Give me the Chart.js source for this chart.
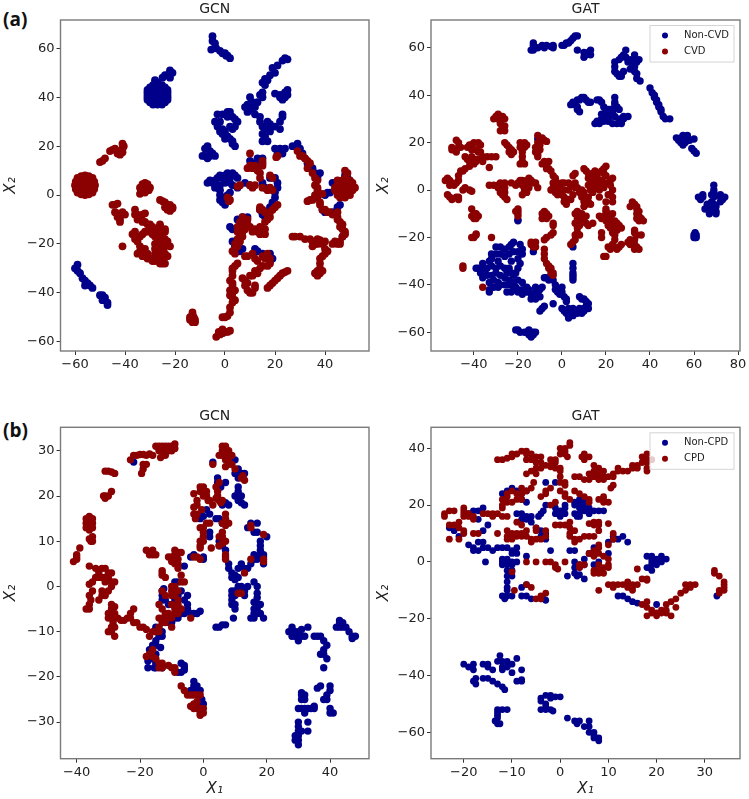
<!DOCTYPE html>
<html>
<head>
<meta charset="utf-8">
<title>GCN / GAT embeddings</title>
<script src="https://cdn.jsdelivr.net/npm/chart.js@4/dist/chart.umd.min.js"></script>
<style>
  html, body { margin: 0; padding: 0; background: #fff; }
  #page { position: relative; width: 749px; height: 799px; overflow: hidden; }
  canvas { position: absolute; }
  .tag { position: absolute; left: 3px; font: bold 19px "Open Sans", sans-serif; color: #111; }
</style>
</head>
<body>
<div id="page">
  <div class="tag" style="top:6px">(a)</div>
  <div class="tag" style="top:417px">(b)</div>
  <canvas id="aGcn" width="375" height="395" style="left:0;top:0"></canvas>
  <canvas id="aGat" width="374" height="395" style="left:375px;top:0"></canvas>
  <canvas id="bGcn" width="375" height="392" style="left:0;top:407px"></canvas>
  <canvas id="bGat" width="374" height="392" style="left:375px;top:407px"></canvas>
</div>
<script>
// values, [x1, x2]
const aGcnNon = [[-5,65],[-5,63],[-4,62],[-3.5,60],[-5.5,59.5],[-2,59],[-1,58],[0,58],[0.5,57],[1,57],[2,56],
  [-27,41],[-24,41],[-30,41],[-27,44],[-27,38],[-29,44],[-25,44],[-29,38],[-25,38],[-31,42],[-31,40],[-23,42],[-23,40],[-27,46],[-27,37],[-28,47],
  [-31,41],[-23,41],[-27,45],[-30,44],[-24,44],[-30,38],[-24,38],[-29.5,41],[-24.5,41],[-27,43],[-27,39],[-29,42.5],[-25,42.5],[-29,39.5],[-25,39.5],[-28.8,37],[-25.2,37],[-28.8,45],[-25.2,45],[-31,39],[-31,43],[-23,39],[-23,43],
  [-25,48],[-23,49],[-22,48],[-22,51],[-21,50],[-24,49],
  [-60,-30],[-59,-28.5],[-59,-31],[-58,-32],[-57,-34],[-56,-35],[-56,-37],[-55,-36],[-54,-37],[-53,-38],[-50,-41],[-49,-41],[-49,-43],[-48,-42],[-47,-44],[-47,-45],
  [25,55.5],[24,56],[23,55],[21,53],[19,52],[20,50],[18,49],[16,47.5],[15,46],[16,45],[17,47],[14,41],[15,40],[15,42],[22,41],[20,41.5],[24,42],[24,40],[23,39],[22,40],[25,43],[25,41],
  [10,40],[11,38],[9,37],[8,36],[10,35],[12,36],[13,38],[9,34],[12,33],[14,32],[14,30],[15,28],[16,27],[15,25],[16,24],[17,22],[15,22],[18,29],[20,28],[22,27],[22,30],[23,32],[23,33],[18,26],[17,30],
  [-3,33],[-2,30],[-4,30],[-1,33],[1,34],[2,34],[1,32],[3,32],[4,31],[5,30],[4,28],[3,27],[-1,27],[-3,28],[-2,26],[-1,25],[0,26],[1,24],[2,23],[3,22],[4,20],[3,21],[0,23],[2,28],
  [-8,19],[-7,20],[-6,18],[-5,17],[-6,16],[-8,16],[-7,15],[-4,16],[-9,16],
  [-7,5],[-5,5],[-6,6],[-4,6],[-3,7],[-2,8],[-1,7],[0,8],[1,9],[2,7],[3,9],[4,8],[5,7],[2,5],[0,5],[-2,4],[-3,3],[-2,2],[-2,0],[-1,-1],[-1,-3],[0,-4],[-2,-2],[1,0],[2,1],[3,4],[-4,3],
  [5,3],[8,5],[10,4],[10,14],[12,13],[14,12],[13,15],[15,15],[15,5],[16,3],[18,7],[20,7],[21,5],[21,3],[20,1],[20,-1],[19,-3],[18,-5],[14,-6],[15,-8],[16,-9],[17,-7],
  [20,19],[22,19],[24,19],[23,17],[21,17],[27,20],[29,21],[30,19],[31,17],[32,15],[33,13],[35,11],[36,9],[37,7],[38,9],[41,1],[40,0],[42,1],[39,-6],[40,-7],[43,-7],[45,-5],[46,-4],[47,-17],[43,5],[45,4],[48,8],[49,7],
  [2,-13],[3,-14],[5,-10],[7,-9],[9,-9],[3,-19],[4,-21],[6,-23],[7,-22],[12,-22],[13,-23],[15,-24],[18,-24],[19,-26],[18,-27]];

const aGcnPos = [[-56,4],[-52,4],[-60,4],[-56,8],[-56,0],[-53,7],[-59,7],[-53,1],[-59,1],[-54,4],[-58,4],[-56,6],[-56,2],
  [-52.3,5.5],[-52.3,2.5],[-59.7,5.5],[-59.7,2.5],[-54.5,7.7],[-57.5,7.7],[-54.5,0.3],[-57.5,0.3],[-58,6],[-54,6],[-58,2],[-54,2],
  [-32,3],[-30,3],[-34,3],[-32,5],[-32,1],[-34,0.5],[-31,4.5],[-33,4.5],[-33.5,2],[-30.5,2],
  [-50,13.5],[-49,14],[-48,15],[-46,18],[-45,18.5],[-44,19],[-43,18],[-43,17],[-42,16.5],[-41,17.5],[-41,21],[-40.5,20],[-41,19],
  [-26,-2],[-25,-2.5],[-24,-3],[-23,-4],[-22,-4],[-21,-5],[-23,-6],[-22,-6.5],[-21,-5.5],[-24,-5],
  [-45,-4],[-44,-4],[-43,-3.5],[-44,-7],[-43,-7.5],[-42,-8],[-40,-8],[-43,-9],[-42,-10],[-42,-11],[-41,-7],
  [-36,-6],[-36,-8],[-35,-8],[-34,-9],[-33,-8],[-32,-7.5],[-35,-10],[-33,-11],[-32,-11],[-31,-12],[-30,-12],[-29,-13],[-28,-14],[-27,-15],[-26,-13],[-25,-15],[-24,-14],[-26,-12],[-24,-15],
  [-36,-15],[-37,-16],[-35,-17],[-36,-18],[-35,-19],[-34,-17],[-33,-16],[-32,-15],[-31,-15],[-28,-17],[-27,-18],[-26,-17],[-25,-17],[-29,-16],[-28,-20],[-27,-20],[-26,-20],[-28,-22],[-27,-23],[-25,-22],[-24,-21],[-22,-21],[-23,-19],[-24,-18],[-25,-19],[-26,-23],[-24,-24],[-23,-25],[-25,-26],[-26,-27],[-27,-25],[-28,-24],
  [-34,-21],[-34,-23],[-35,-24],[-33,-25],[-32,-22],[-31,-24],[-30,-26],[-29,-27],[-28,-27],[-26,-28],[-25,-28],[-24,-28],[-33,-24],[-41,-21],[-31,-26],
  [-13,-48],[-13,-49],[-12.5,-50],[-12,-51],[-14,-51],[-13,-52],[-12,-52],[-14,-50],
  [-3.5,-58],[-2,-57],[-2.5,-56],[-1,-56.5],[0,-56],[1,-56],[2,-55.5],[-1,-55],
  [-1,-50],[0,-50],[1,-49.5],[2,-48],[2,-46],[3,-44],[4,-43],[3,-42],[2,-41],[3,-40],[4,-39],[2,-39],[3,-37],[3,-36],[2,-35],[3,-33],[3,-31],[3,-30],[4,-29],[5,-28],
  [7,-9],[8,-10],[9,-10],[6,-11],[7,-12],[8,-12],[9,-12],[10,-13],[5,-13],[6,-14],[7,-15],[8,-14],[5,-15],[6,-17],[7,-17],[5,-18],[6,-19],[4,-20],[5,-21],[4,-22],[3,-23],[4,-24],[12,-14],[11,-15],
  [14,-13],[15,-14],[15,-15],[14,-16],[13,-15],[16,-16],[16,-14],
  [8,-25],[9,-25],[11,-24],[12,-26],[13,-27],[15,-25],[17,-24],[18,-26],[16,-26],[18,-28],[15,-29],[14,-30],[12,-31],[11,-33],[10,-33],[8,-35],[7,-34],[9,-36],[8,-37],[9,-39],[10,-40],[11,-40],[12,-38],[12,-37],[13,-32],[17,-29],
  [17,-38],[18,-37],[19,-36],[20,-35],[21,-34],[22,-33],[23,-32],[24,-31.5],[25,-31],
  [14,-5],[15,-6],[14,-6],[16,-7],[17,-8],[18,-7],[19,-6],[20,-5],[21,-4],[18,-9],[17,-10],[16,-11],
  [6,4],[5,3.5],[10,4],[11,3],[12,4],[15,3],[17,2],[18,3],[19,7],[18,8],[19,2],[1,-1],[2,-2],[1.5,-2.5],
  [10,17],[9,11],[10,12],[11,11],[12,12],[13,10],[14,9],[14,7],[15,12],[15,14],[15,13],[21,16],[20.5,15.5],
  [29,18],[30,16],[31,16],[32,15],[33,14],[34,13],[33,11],[35,9],[36,7],[37,6],[36,4],[37,3],[37,2],[36,0],[36,-1],[35,-2],[34,-2],[33,-2.5],[37,-1],[39,0.5],
  [38,-3],[38,-4],[39,-6],[40,-6],[41,-7],[42,-7],[43,-8],[45,-7],[45,-9],[45,-10],[46,-11],[47,-12],[46,-13],[47,-14],[48,-15],[48,-16],[47,-17],[46,-19],[46,-20],[45,-20],[44,-19],[43,-20],
  [48,10],[49,9],[45,6],[46,5],[47,6],[48,7],[50,6],[51,5],[52,3],[51,2],[50,3],[49,4],[48,1],[47,0],[46,1],[44,2],[45,0],[46,-1],[48,-1],[49,1],[50,0],[45,4],[44,3],[47,3],
  [27,-17],[28,-17],[30,-17],[32,-18],[34,-18],[35,-19],[36,-20],[35,-21],[37,-20],[37,-18],[38,-18.5],[40,-19],[39,-20],[40,-22],[41,-23],[40,-24],[39,-25],[38,-26],[38,-28],[38,-30],[37,-31],[36,-32],[37,-33],[38,-32],[39,-31]];

const aGatNon = [[-13,62],[-13,61],[-14,59],[-13,59],[-11,60],[-9,61],[-8,60],[-7,61],[-5,60.5],[-4,61],[-4,60],[0,61],[1,61],[2,62],[3,62],[4,63],[5,64],[6,65],[7,65],[7,59],[10,58],[10,56],[11,57],[12,58],[13,59],[13,57],
  [28,57],[29,59],[27,56],[26,55],[24,54],[24,52],[24,50],[25,49],[26,48],[27,48],[28,50],[30,54],[29,56],[31,55],[32,54],[33,57],[33,55],[34,54],[35,55],[32,52],[33,50],[34,49],[34,47],[31,51],[33,52],[35.5,46],
  [40,43],[41,41],[42,39],[43,37],[44,35],[45,33],[46,31],[47,30],[42,40],[43,38],[44,36],[45,34],[49,30],
  [52,22],[53,21],[54,22],[55,23],[56,22],[57,23],[54,20],[55,19],[56,20],[57,21],[58,21],[60,21.5],[59,17.5],[60,16.5],[61,15.5],[56,21],
  [69,2],[69,0],[68,-2],[69,-3],[68,-5],[69,-6],[68,-8],[70,-9],[67,-10],[65,-8],[66,-6],[64,-2],[62,-3],[63,-4],[72,-2],[72,-3],[73,-4],[72,-5],[70,-7],[69,-1],[74,-3],[68,-9],[70,-10],[64,-3],
  [60,-19],[61,-19],[60.5,-18],[60.5,-20],[61,-20],[60,-20],
  [5,-24],[5,-31],[5,-33],[5,-35],[5,-36],[5,-37],[5,-38],[-20,-13],[-20,-12.5],[-13,-26],[-11,21.5],
  [4,36],[5,37],[6,36],[7,38],[8,38],[9,39],[10,39],[11,38],[13,37],[7,34],[7,35],[8,33],[12,37],
  [16,38],[17,38],[18,37],[24,39],[24,37],[24,36],[19,35],[21,34],[23,33],[25,35],[26,34],[18,32],[20,32],[22,31],[24,31],[26,30],[28,30],[30,31],[15,28],[17,28],[19,29],[21,29],[23,28],[25,28],[27,29],[18,30],[20,30],[21,31],[16,29],[22,34],[20,34],[27,28],[28,31],
  [-30,-24],[-28,-24],[-26,-25],[-24,-24],[-23,-23],[-22,-22],[-19,-23],[-18,-25],[-24,-27],[-26,-28],[-32,-27],[-30,-27],[-28,-27],[-22,-26],[-20,-26],[-18,-27],[-23,-30],[-20,-29],[-19,-31],[-20,-33],[-21,-35],[-29,-30],[-32,-29],[-33,-30],[-36,-31],[-36,-33],[-38,-33],[-39,-33],[-37,-35],[-35,-34],[-34,-33],[-32,-32],[-30,-33],[-28,-32],[-26,-33],[-24,-33],[-23,-35],[-22,-36],[-36,-37],[-34,-36],[-32,-36],[-30,-35],[-28,-36],[-26,-37],[-24,-38],[-25,-35],[-33,-39],[-31,-38],[-29,-39],[-28,-40],[-26,-40],[-33,-42],[-31,-41],[-29,-41],[-24,-40],[-22,-39],[-33,-43],
  [-22,-42],[-20,-38],[-21,-41],[-20,-42],[-18,-39],[-18,-42],[-18,-44],[-16,-43],[-16,-41],[-14,-44],[-12,-43],[-14,-46],[-12,-46],[-11,-44],[-10,-42],[-9,-41],[-12,-41],[-10,-45],[-15,-42],[-20,-43],[-23,-43],[-25,-43],
  [-10,-51],[-9,-50],[-8,-49],[-8,-37],[-7,-37],[-6,-38],[-4,-38],[-3,-40],[-3,-42],[-1,-42],[0,-41],[0,-43],[-2,-43],[1,-45],[2,-46],[2,-47],[-4,-48],[-1,-44],
  [0,-50],[1,-51],[2,-52],[3,-53],[4,-52],[5,-53],[6,-51],[7,-52],[8,-51],[9,-52],[10,-51],[10,-50],[11,-49],[12,-50],[12,-48],[11,-47],[9,-46],[8,-45],[10,-46],[3,-50],[5,-50],[8,-50],[3,-54],
  [-20,-59],[-21,-59],[-19,-60],[-17,-60],[-16,-60],[-15,-59],[-15,-61],[-14,-61],[-13,-60],[-13,-61],[-12,-60],[-14,-62]];

const aGatPos = [[-29,32],[-28,31],[-27,31],[-26,30],[-31,30],[-30,31],[-28,29],[-28,28],[-27,27],[-26,27],[-27,26],[-28,25],[-29,30],[-26,25],
  [-48,21],[-47,20],[-47,18],[-49,17],[-50,17],[-48,16],[-46,18],[-50,18],
  [-44,14],[-43,13],[-42,19],[-40,20],[-38,20],[-37,19],[-41,17],[-39,17],[-38,16],[-41,14],[-40,13],[-38,13],[-36,14],[-34,14],[-32,14],[-30,14],[-42,12],[-40,11],[-39,12],[-36,12],[-42,10],[-44,9],[-45,8],[-46,8],[-47,6],[-33,9.5],[-37,16],[-41,19],[-43,18],
  [-26,20],[-25,19],[-24,18],[-24,16],[-23,17],[-23,15],[-22,16],
  [-19,20],[-18,19],[-17,20],[-19,18],[-17,18],[-18,16],[-18,14],[-18,12],[-19,11],[-17,11],[-16,19],
  [-53,4],[-52,5],[-51,4],[-50,3],[-51,2],[-49,2],[-48,3],[-47,4],[-52,-2],[-51,-3],[-50,-4],[-48,-3],[-47,-3],[-47,-4],[-45,0],[-44,1],[-42,0],[-41,-0.5],
  [-33,2],[-31,2],[-29,2],[-28,3],[-27,2],[-26,3],[-29,1],[-27,0],[-26,1],[-26,-1],[-27,-2],[-26,-3],[-25,-4],[-28,-1],
  [-23,3],[-21,2],[-20,3],[-19,4],[-18,4],[-17,3],[-16,4],[-15,5],[-14,4],[-13,3],[-12,3],[-11,1],[-18,2],[-17,1],[-16,2],[-15,1],[-17,0],[-18,-2],[-16,-1],
  [-41,-8],[-40,-10],[-39,-10],[-40,-12],[-39,-12],[-41,-11],[-38,-11],
  [-20,-8],[-20,-9],[-20,-10],[-20,-11],[-21,-9],
  [-41,-20],[-40,-20],[-39,-19],[-39,-18.5],[-32,-20],
  [-9,-10],[-8,-9],[-8,-11],[-7,-10],[-6,-11],[-9,-12],[-7,-12],
  [-4,-14],[-4,-15],[-4,-18],[-5,-19],[-7,-20],[-8,-21],
  [-14,-22],[-13,-23],[-14,-23],[-12,-22],[-12,-24],[-13,-24],
  [-8,-25],[-8,-27],[-8,-29],[-7,-31],[-6,-33],[-6,-32],[-5,-33],[-5,-35],[-4,-36],[-4,-35],
  [-45,-32],[-45,-33],[-36,-41],
  [-11,23],[-9,22],[-8,21],[-7,20.5],[-11,20],[-12,18],[-12,16],[-11,15],[-11,14],[-10,19],[-10,17],
  [-8,12],[-7,11],[-9,11],[-6,12],[-7,9],[-6,9],[-5,8],[-4,6],[-3,5],[-4,3],[-4,1],[-5,0],[-2,3],[-1,2],[-3,1],[0,3],[1,3],[3,3],[4,2],[3,0],[1,0],[-1,0],[-3,-1],[-2,-1],[-2,-2],[0,-2],[1,-3],[2,-4],[3,-4],[4,-4],[1,-5],[2,-6],[5,-2],[6,1],[6,3],[5,6],[6,7],[7,1],[8,-1],[9,-3],[10,-5],[10,-7],[11,-6],[12,-5],[11,-3],[10,-1],[9,0],[10,9],[11,8],[12,7],[12,5],[13,6],[14,7],[15,8],[14,4],[13,3],[12,2],[13,0],[14,-1],[15,1],[16,3],[15,5],[16,6],[18,8],[19,9],[20,10],[19,7],[20,6],[18,4],[18,2],[17,0],[19,1],[20,3],[22,4],[22,2],[23,5],[23,0],[22,-2],[21,-2],[23,-3],[23,-5],[20,-5],[17,-3],[13,-6],[12,-3],
  [6,-10],[7,-9],[8,-10],[9,-10],[9,-12],[7,-12],[6,-14],[8,-13],[10,-12],[11,-11],[7,-16],[8,-15],[11,-14],[12,-15],[14,-14],[7,-18],[6,-19],[6,-21],[5,-22],[4,-23],[8,-19],
  [17,-11],[18,-12],[19,-11],[20,-9],[20,-8],[21,-10],[22,-11],[23,-10],[20,-13],[21,-13],[22,-14],[23,-13],[24,-13],[21,-15],[22,-16],[24,-15],[25,-14],[26,-15],[27,-16],[24,-17],[25,-17],[23,-18],[24,-19],[24,-21],[23,-23],[21,-24],[22,-25],[24,-24],[25,-25],[26,-24],[27,-23],[18,-18],[18,-20],[19,-28],[20,-28],
  [32,-5],[33,-6],[31,-7],[34,-7],[34,-8],[35,-9],[34,-10],[35,-11],[36,-12],[37,-13],[35,-13],[34,-12],[33,-18],[34,-19],[36,-19],[33,-17],[31,-21],[30,-22],[31,-23],[33,-21],[33,-23],[34,-24],[33,-25],[35,-25]];

const bGcnNon = [[-22,27.5],[3,27.5],[4.5,24],[4.5,23],[5,22],[5.5,22],[7,23],
  [9,28],[10,28],[11,26],[12,25],[13,25],[11,24],[11,22],[11,21],[12,20],[12,18.5],[13,18],[10,20],[11,19],[10,25],
  [7,18.5],[8,18],[6,18],[4,15],[5,15],[6,14],[7,14],[1,17],[2,16],[0,15.5],[-1,15],[-1,16],[2,12],[2,11],
  [5,10],[5,9],[6,9],[7,8],[7,6.5],[8,5],[8,4],[9,3],[9,2],[10,1.5],[10,2.5],[11,2],[11,4],[12,5],[13,4],[14,4],[15,5],[16,6],[16,7],[17,6],[18,7],[19,7],[18,9],[18,10],[18,8],[16,12],[15,14],[17,14],[17,12],[14,13],[19,5],[19,6.5],[20,11],
  [9,-1],[10,-1],[9,-2],[9,-3],[9,-4],[10,-4],[10,-5],[9.5,-7],[10,-2],[12,0],[13,-1],[14,0],[13,-2],[11,0],
  [16,1],[17,0],[17,-1.5],[17,-2.5],[16,-3.5],[17,-4],[16,-5],[17,-5],[18,-4],[16,-6],[17,-6],[18,-6],[19,-7],[15,-7],[16,-7],
  [4,-9],[5,-9],[6,-8.5],[7,-8.5],[-6,4.5],[-4,6.5],[-3,7],[0,6],[0,6.5],
  [-13,-1],[-12.5,-0.5],[-13,-2],[-13,-3],[-12,-3],[-11,-4],[-9,-4],[-9,-3],[-8,-2],[-7,-1],[-6,-3],[-5,-2],[-5,-4],[-5,-5],[-4,-6],[-3,-6],[-2,-6],[-1,-5.5],[-6,-6],[-7,-6],[-8,-7],[-9,-7],[-11,-8],[-10,-8],[-9,1],[-8,1],
  [-15,-9],[-14,-10],[-13,-11],[-14,-11],[-15,-12],[-13,-10],[-15,-13],[-13.5,-13.5],[-15,-15],[-16,-16],[-15,-17],[-15,-18],[-15.5,-18],[-13,-18],[-17.5,-18],[-17.5,-16.5],[-16,-13],[-17,-14],
  [-8,-19],[-7,-19],[-6,-18],[-7,-17],[-6,-17.5],[-6,-18.5],[-3,-21],[-3,-22],[-2,-22],[-4,-23],[-1,-23],[-3,-23],[-0.5,-25],[-1,-26],[0,-26],
  [27,-10],[28,-10],[29,-10],[30,-10],[28,-9],[29,-11],[30,-12],[31,-11],[32,-11],[33,-9],[31,-9.5],[28,-11],
  [35,-11],[36,-11],[37,-11],[38,-12],[38,-15],[38,-14],[39,-13],[39,-16],[38,-18],[37,-15],
  [43,-8],[44,-8],[43,-9],[44,-9],[45,-9],[42,-9],[46,-10],[47,-11],[48,-11],[47,-11.5],[43,-7.5],
  [37,-22],[36,-22.5],[38,-25],[40,-22],[40,-23],[39,-24],[39,-25],[40,-27],[40,-28],[41,-28],
  [31,-24],[32,-24],[31,-25],[32,-25],[31,-23.5],[31.5,-24.5],[33,-27],[32,-27],[34,-27],[35,-27],[31,-27],[32,-28],[30,-27],[35,-26.5],[33,-30],[30,-30],[30,-31],[30,-32],[31,-32],[33,-32],[30,-33],[29,-33],[29,-34],[30,-35],[30,-34]];

const bGcnPos = [[-41,5.5],[-40,6],[-40,7],[-39,8.5],[-40,6.5],
  [-36,14],[-37,14],[-35,14],[-36,15.5],[-36,12.5],[-37,15],[-35,13],[-35,15],[-37,13],[-35,11],[-35,10],[-35.5,10],[-36,10.5],
  [-31,20],[-31,19.5],[-31.5,20],[-30,20],[-29,21],[-31,25.5],[-30,25.5],[-29,25.3],[-28,25],
  [-23,28],[-22,29],[-21,29],[-20,29.2],[-19,29.2],[-18,29],[-17,29.3],[-16,29],[-19,27],[-19,26],[-19.5,25],[-18,27],
  [-15,31],[-14,31],[-13,31],[-12,31],[-11,31],[-10,31],[-9,31.5],[-14,30],[-13,30],[-12,29],[-11,30],[-10,30],[-9,30.5],[-13.5,28.5],
  [6,31],[7,31],[8,30],[7,30],[6,29],[5,29],[8,29],[9,29],[6,30],[7,28],[8,28],[9,27],[10,26],[7,26.5],[8,27],[3,27],[12,24],[12.5,24.5],[13,23.5],
  [4,22],[4.5,21],[5,23],[4.5,20],[5,19],[5.5,18.5],[6,19],[-3,20.5],[-1,22],[0,22],[-1,21],[0,20],[1,21],[1,20],[1.5,19],[2,19],[-2,19],[-2,18],[-3,17.5],[-3,16],[-2,16],[-2.5,15],[-0.5,17],[3,18],[4,19.5],
  [7,16],[7,15],[8,14],[6,14],[7,13.5],[2,14],[1,14],[0,13],[-1,13],[0,12],[0,11],[-1,10],[0,10],[-1,9],[-1,8.5],[2.5,8.5],
  [5,11],[6,12],[6,11],[7,10],[5,9],[6,9.5],[7,7],[7,6],
  [-18,8],[-17,7.5],[-16,8],[-17,7],[-16,7],[-15,7],
  [-11,6.5],[-10,6.5],[-9,7],[-9,8],[-8,7.5],[-8,6],[-7,7.5],[-9,5],[-10,5.5],[-8,5],[-8,4],[-13,3.5],[-13,3],[-12,2],[-13,2.5],
  [-36,4.5],[-34,4],[-33,3],[-32,4],[-31,4],[-30,3],[-33,2],[-32,2],[-31,2],[-30,2],[-29,1],[-28,1],[-31,1],[-29,0],[-30,-1],[-31,-2],[-32,-2],[-33,-3],[-32,-1],[-35,1],[-36,0.5],[-35,-1],[-34,2],[-36,-2],[-35.5,-3],[-36,-4],[-37,-5],[-36,-5],[-29,3],
  [-29,-4],[-28,-4.5],[-29,-5],[-30,-6],[-28,-6],[-30,-7],[-29,-7],[-27,-7],[-26,-7.5],[-25,-7.5],[-24,-7],[-23,-7],[-23,-6],[-22,-5],[-22,-8],[-21,-8],[-20,-9],[-19,-9],[-18,-9.5],[-30,-10],[-29,-9],[-28,-9],[-29,-10],[-28,-11],[-28.5,-8],
  [-16,-10],[-17,-11],[-15,-10],[-14,-10],[-16,-14],[-17,-15],[-18,-15.5],[-16,-15.5],[-15,-16],[-14,-17],[-13,-17],[-13,-18],[-14,-18],
  [-11,-17.5],[-10,-18],[-9,-19],[-9,-18],
  [-7,-22],[-6,-23],[-5,-24],[-4,-24],[-3,-24],[-2,-24],[-1,-24],[-3,-26],[-4,-26.5],[-3,-27],[-2,-25.5],[-2,-27],[-1,-28],[0,-28],[-1,-27],[0,-27],[-1,-28.5],
  [-14,-4],[-13,-5],[-12,-6],[-14,-7],[-13,-7],[-12,-8],[-13,-8],[-14,-9],[-11,-6],[-11,-7],[-10,-7],[-9,-6],[-9,-5],[-10,-9],[-8,-6],[-9,-1],[-10,-1],[-9,0],[-8,-1],[-10,-2],[-9,-2],[-8,-3],[-7,-5],[-8,-4],[-7,1],[-6,1],[-7,2.5],[-12,-2],[-13,-1],[-10,0],[-4,-7],[-10,-4],
  [-2,6.5],[-1,6],[-3,6.5],[15,13.5],[15,13],[15,6],[19,11.5],[19,5.5],[19,6],[13,3],[12,-1.5],[11,-1.5]];

const bGatNon = [[-20,-36],[-19,-37],[-18,-36],[-18,-38],[-16,-36],[-15,-37],[-15,-36],[-13,-35],[-12.5,-33],[-12,-35],[-12,-37],[-11,-35],[-11,-37],[-10,-36],[-9,-34],[-12,-38],[-14,-38],[-10,-39],[-8,-38],[-8,-42],[-9,-42],[-8,-41.5],[-17.5,-41],[-18,-42],[-17.5,-43],[-16,-41],[-15,-41],[-14,-42],[-13,-43],[-12,-44],[-11.5,-45],
  [-13,-52],[-13,-53],[-12,-52],[-13,-54],[-13,-55],[-13.5,-56],[-13,-57],[-12.5,-57],[-11,-52],
  [-4,-48],[-3,-47],[-2,-47],[-1,-47.5],[0,-47.5],[-4,-49],[-3,-50],[-3,-51],[-4,-52],[-3,-52],[-2,-52],[-1.5,-52.5],[-2,-48],
  [1.5,-55],[3,-56],[4,-56],[3.5,-57],[6,-56],[6,-58],[5,-58],[6,-60],[7,-61],[7,-62],[8,-63],[8,-62],[7,-60],
  [-23,12],[-22,11],[-21,9],[-19,17],[-18,18],[-17,18],[-16,19],[-17,15],[-16,11],[-15,13],[-19,6],[-18,5],[-18,4],[-17,4],[-16,5],[-17,7],[-16,7],[-15,5],[-15.5,0],[-14,4],[-13,5],[-12,5],[-11,5],[-10,4],[-9,3],[-9,5],[-10,3],[-7,2],[-12,1],[-12,0],[-11,1],[-10,0],[-11,-1],[-10,-1],[-12,-1],[-9,0],[-11,-3],[-10,-3],[-10,-5],[-11,-5],[-11,-7],[-11,-9],[-11,-10],[-12,-12],[-11,-12],[-11.5,-13],[-10,-12],[-8,-12],[-7,-12],[-8,-9],[-7,-8],[-6,-13],[-4,-13],[-3.5,-13],[-3,-13.5],
  [-12,24],[-11,25],[-10,26],[-9,25],[-8,24],[-7,25],[-8,22],[-7,21],[-9,17],[-8,17],[-7,16],[-8,15],[-6,16],[-7,15],[-6,14],[-3,20],[-3.5,18],[-4,17],[-4.5,16],[-5,12],[-4,11],[-3,10],[-4,9],[-3,8],[-2,4],
  [-3,28],[-1,28],[-1,19],[0,18],[1,19],[1,20],[1,17],[-1,17],[0,16],[3,21],[4,22],[3,20],[4,20],[5,21],[5,19],[6,19],[6,17],[5,18],[4,17],[3,17],[7,18],[8,18],[9,18],[4,16],[3.5,16],[4,19],
  [4,-1],[3,-2],[3,0],[5,1],[6,3],[7,5],[7,3],[8,0],[7,-1],[8,-1],[5,-1],[4,-2],[10,3],[10,7],[11,8],[11,9],[12,8],[13,9],[14,7],[2,4],[3,4],[1.5,-5],[3,-4],[4,-4.5],[3.5,-5],[5,-6],
  [20,0],[19,1],[20,1],[21,2],[22,1],[19,0],[18,2],[19,2],[21,0],[20,-1],[21,1],[18,-2],[19,-3],[18.5,-2],[19,-1],
  [12,-12],[13,-12],[14,-13],[15,-14],[16,-14.5],[20,-15],[32.5,-12]];

const bGatPos = [[-13,36],[-12,36],[-11,36.5],[-10,37],[-10,38],[-9,38],[-8,39],[-7,39],[-7,38],[-6,38],[-5,37],[-4,37],[-7,36],[-6,36],[-5,35],[-4,35],[-3,34],[-2,34],[-2,33.5],[-4,33],[-5,33],[-6,32],[-7,31],[-5,31],[-1,36],[0,38],[1,39],[1,40],[2,41],[2,42],[0,40],[1,38],[1.5,37],[-1,35],[-1,33],[0,33],[0,32],[0,30],[0,28],[1,27],[1,28],[-2,36],
  [5,38],[5,37],[5,36],[6,37],[4.5,37],
  [-5.5,28],[-3,25],[-2,26],[-3,24],[-4,23],[-1,21],[-2,20],[0,25],[1,24],[1,23],[2,22],[3,25],[4,24],[5,23],[6,22],[6,21],[8,22],[9,22],[9,21],[10,21],[9,23],
  [3,30],[4,30],[5,29],[6,31],[7,32],[7,30],[8,33],[8,31],[9,32],[9,30],[6,29],[8,29],[9,29],[10,30],[11,30],[11,31],[12,32],[12,33],[13,32],[14,32],[15,34],[16,34],[17,35],[16,33],[15,33],[17,37],[18,38],[18,36],[18,35],[19,36],[18,33],[18,32],[7,34],[11,27],[10.5,26],
  [-12,22],[-11,23],[-11,24],[-10,25],[-9,24],[-9,22],[-10,21],[-11,21],[-8,22],[-8,26],[-7,25],[-6,26],[-8,24],[-12,20],[-12,19],
  [-24,17],[-23,18],[-22,18],[-24,16],[-20,19],[-20,18],[-19,17],[-20,17],[-20,16],[-19,16],[-18,16],[-18,15],[-16,17],[-15,17],[-14,17],[-14,16],[-13,17],[-12,16],[-9,14],[-13,10],[-21,14],
  [-23,13],[-22,13],[-21,12],[-20,10],[-20,11],[-18,10],[-17,10],[-23,8],[-21,8],[-11,16],
  [-11,11],[-10,10],[-9,9],[-8,9],[-7,9],[-11,9],[-11,8],[-10,8],[-9,10],[-8,10],[-7,11],[-8,13],[-6,8],[-5,8],[-4,8],[-3,9],[-6,7],[-3,11],[-5,11],[-5,12],
  [-1,13],[0,13],[1,13],[2,14],[2,12],[3,11],[2,10],[2,9],[3,8],[3,7],[4,8],[5,9],[6,9],[7,9],[6,13.5],[7,14],[8,14],[7,13],[8,13],[8,11],[10,13.5],[11,10],[11,8],[10,6],
  [4,-1],[4,-2],[5,-1],[7,2],[6,3],[8,6],[8,5],[7,4],[8,3],[9,2],[10,1],[8,-1],[8,-3],[7,-3],[9,-2],[10,-1],[10,-2],[7,-4],[9,-4],[8,-4],[8,-2],[12,-8],[11,-8],[10,-8],[11,-9],[8,-10],[16,-2.5],[14,-7],[15,-8],[16,-8],[15,-9],[14,-9],[15,-10],[17,-6],[18,-6],[18,-6.5],[13,-8],
  [1,0],[-3,0],[-2,0],[-1,-1],[-1,-2],[-0.5,-2.5],[-5,0],[-7,0],[-10,-3.5],[-4,-13],[-3,-11],[-4,-12],[-6,-9],[-7,-8],[-9.5,-10],[-5,-13],
  [17,-15],[18,-14],[18,-16],[19,-17],[20,-18],[21,-18],[20,-19],[19,-18],[22,-18],[22,-17],[23,-19],[22,-15],[23,-14],[24,-13],[25,-11],[26,-10],[27,-9],[27,-8],[28,-8],[26,-8],[24,-16],[18,-19],[21,-17],
  [32,-3],[32,-4],[33,-5],[34,-7],[34,-8],[34,-9],[34,-10],[33,-11],[33,-10]];

// tick labels and axis limits
const aGcnXTicks = [-60, -40, -20, 0, 20, 40];
const aGcnYTicks = [-60, -40, -20, 0, 20, 40, 60];
const aGatXTicks = [-40, -20, 0, 20, 40, 60, 80];
const aGatYTicks = [-60, -40, -20, 0, 20, 40, 60];
const bGcnXTicks = [-40, -20, 0, 20, 40];
const bGcnYTicks = [-30, -20, -10, 0, 10, 20, 30];
const bGatXTicks = [-20, -10, 0, 10, 20, 30];
const bGatYTicks = [-60, -40, -20, 0, 20, 40];

const NAVY = '#00008b';
const MAROON = '#8b0000';
const TICK_FONT = { family: '"DejaVu Sans"', size: 13 };

// frame around the plot, and the little legend box on the GAT panels
const framePlugin = {
  id: 'frame',
  afterDatasetsDraw(chart, args, opts) {
    const { ctx, chartArea: a } = chart;
    ctx.save();
    ctx.strokeStyle = '#7a7a7a';
    ctx.lineWidth = 1.4;
    ctx.strokeRect(a.left, a.top, a.right - a.left, a.bottom - a.top);
    if (opts.legend) {
      const x = a.right - 90, y = a.top + 5.5;
      ctx.fillStyle = 'rgba(255,255,255,0.8)';
      ctx.strokeStyle = '#d4d4d4';
      ctx.lineWidth = 1;
      ctx.fillRect(x, y, 84, 36.5);
      ctx.strokeRect(x, y, 84, 36.5);
      ctx.font = '10px "DejaVu Sans"';
      ctx.textBaseline = 'middle';
      opts.legend.forEach((name, i) => {
        const rowY = y + 10 + i * 16;
        ctx.fillStyle = i === 0 ? NAVY : MAROON;
        ctx.beginPath();
        ctx.arc(x + 15, rowY, 3, 0, Math.PI * 2);
        ctx.fill();
        ctx.fillStyle = '#222';
        ctx.fillText(name, x + 34, rowY);
      });
    }
    ctx.restore();
  }
};

function axis(min, max, ticks, size, titleText, titlePad) {
  return {
    type: 'linear',
    min: min,
    max: max,
    title: { display: !!titleText, text: titleText, color: '#222', padding: titlePad,
      font: { family: '"DejaVu Sans"', size: 15, style: 'italic' } },
    grid: { drawOnChartArea: false, drawTicks: true, tickLength: 4, color: '#333' },
    border: { display: false },
    ticks: { color: '#222', font: TICK_FONT, padding: 2, autoSkip: false, maxRotation: 0,
      callback: v => String(v).replace('-', '\u2212') },
    afterBuildTicks: s => { s.ticks = ticks.map(v => ({ value: v })); },
    afterFit: s => { if (s.isHorizontal()) s.height = size; else s.width = size; }
  };
}

function panel(id, title, nonPts, posPts, names, xLim, yLim, xTicks, yTicks, opts) {
  const toXY = p => ({ x: p[0], y: p[1] });
  new Chart(document.getElementById(id), {
    type: 'scatter',
    data: {
      datasets: [
        { label: names ? names[0] : 'Non', data: nonPts.map(toXY), backgroundColor: NAVY, borderColor: NAVY, pointRadius: opts.radius, borderWidth: 0, order: 2 },
        { label: names ? names[1] : 'Pos', data: posPts.map(toXY), backgroundColor: MAROON, borderColor: MAROON, pointRadius: opts.radius, borderWidth: 0, order: 1 }
      ]
    },
    options: {
      responsive: false,
      animation: false,
      layout: { padding: { top: 0, right: opts.right, bottom: 0, left: 0 } },
      plugins: {
        legend: { display: false },
        tooltip: { enabled: false },
        frame: { legend: names },
        title: { display: true, text: title, fullSize: false, color: '#222',
          font: { family: '"DejaVu Sans"', size: 14, weight: 'normal', lineHeight: 1.2 },
          padding: { top: opts.titleTop, bottom: 2.2 } }
      },
      scales: {
        x: axis(xLim[0], xLim[1], xTicks, opts.xHeight, opts.xTitle, { top: 0, bottom: 1 }),
        y: axis(yLim[0], yLim[1], yTicks, opts.yWidth, 'X\u2082', { top: opts.yPad, bottom: 0 })
      }
    },
    plugins: [framePlugin]
  });
}

panel('aGcn', 'GCN', aGcnNon, aGcnPos, null, [-65.8, 57.6], [-63.8, 71.6], aGcnXTicks, aGcnYTicks,
  { radius: 3.9, right: 6, xHeight: 44, yWidth: 60.5, xTitle: '', yPad: 2.5, titleTop: 1 });
panel('aGat', 'GAT', aGatNon, aGatPos, ['Non-CVD', 'CVD'], [-59.5, 80.9], [-67.9, 71.7], aGatXTicks, aGatYTicks,
  { radius: 3.7, right: 9, xHeight: 44, yWidth: 56, xTitle: '', yPad: 0, titleTop: 1 });
panel('bGcn', 'GCN', bGcnNon, bGcnPos, null, [-45.1, 52.3], [-38.1, 35.2], bGcnXTicks, bGcnYTicks,
  { radius: 3.7, right: 6, xHeight: 40.3, yWidth: 60.5, xTitle: 'X\u2081', yPad: 2.5, titleTop: 1.3 });
panel('bGat', 'GAT', bGatNon, bGatPos, ['Non-CPD', 'CPD'], [-26.8, 37.3], [-69.3, 47.4], bGatXTicks, bGatYTicks,
  { radius: 3.4, right: 9, xHeight: 40.3, yWidth: 56, xTitle: 'X\u2081', yPad: 0, titleTop: 1.3 });
</script>
</body>
</html>
